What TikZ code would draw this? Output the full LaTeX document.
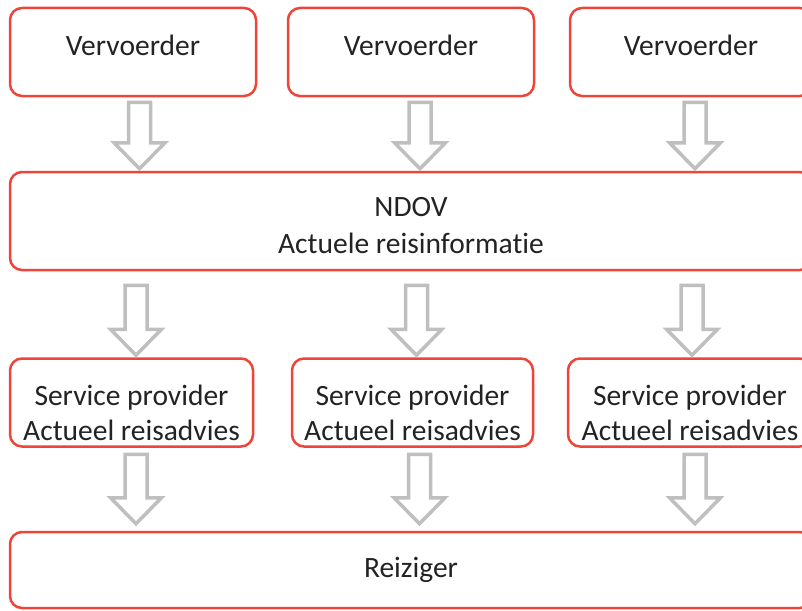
\documentclass[tikz,border=0pt]{standalone}
\usepackage{fontspec}
\setmainfont{Carlito}[Ligatures=NoCommon]
\usetikzlibrary{arrows.meta, positioning, calc}

\definecolor{boxred}{RGB}{238,68,58}
\definecolor{arrowgray}{RGB}{191,191,191}
\definecolor{textdark}{RGB}{35,35,35}

\begin{document}
\begin{tikzpicture}[x=1pt,y=-1pt,
    every node/.style={font=\fontsize{29.5}{36}\selectfont, text=textdark},
    fatarrow/.style={draw=arrowgray, line width=3.5pt, fill=white,
      to path={let \p1=(\tikztostart), \p2=(\tikztotarget) in
        (\x1-11pt,\y1) -- (\x1+11pt,\y1) -- (\x1+11pt,\y2+26pt)
        -- (\x1+25.5pt,\y2+26pt) -- (\x1,\y2) -- (\x1-25.5pt,\y2+26pt)
        -- (\x1-11pt,\y2+26pt) -- cycle}}]
  \tikzstyle{boxR}=[rectangle, rounded corners=12pt, draw=boxred, line width=2.5pt, fill=white, align=center, inner sep=0pt]
  \tikzstyle{boxTop}=[boxR, minimum height=88pt, text depth=14pt]
  \tikzstyle{boxSP}=[boxR, minimum height=88pt, font=\fontsize{29.5}{35}\selectfont]
  \tikzstyle{boxWide}=[boxR, minimum width=802pt, font=\fontsize{29.5}{37}\selectfont]

  \useasboundingbox (0,0) rectangle (802,610);

  % Vervoerders
  \node[boxTop, minimum width=246pt] (vv1) at (133,52) {Vervoerder};
  \node[boxTop, minimum width=246pt] (vv2) at (411,52) {Vervoerder};
  \node[boxTop, minimum width=242pt] (vv3) at (691,52) {Vervoerder};

  % NDOV
  \node[boxWide, minimum height=98pt] (ndov) at (411,221) {\rule{0pt}{28pt}NDOV\\Actuele reisinformatie};

  % Service providers
  \node[boxSP, minimum width=243pt] (sp1) at (131.5,402.5) {\rule{0pt}{42pt}Service provider\\Actueel reisadvies};
  \node[boxSP, minimum width=241pt] (sp2) at (412.5,402.5) {\rule{0pt}{42pt}Service provider\\Actueel reisadvies};
  \node[boxSP, minimum width=244pt] (sp3) at (690,402.5)   {\rule{0pt}{42pt}Service provider\\Actueel reisadvies};

  % Reiziger
  \node[boxWide, minimum height=76pt] (reis) at (411,570) {Reiziger};

  % block arrows
  \draw[fatarrow] ([xshift=6.5pt,yshift=-5pt]vv1.south) to ([yshift=2pt]ndov.north);
  \draw[fatarrow] ([xshift=9pt,yshift=-5pt]vv2.south) to ([yshift=2pt]ndov.north);
  \draw[fatarrow] ([xshift=4pt,yshift=-5pt]vv3.south) to ([yshift=2pt]ndov.north);

  \draw[fatarrow] ([xshift=4.5pt,yshift=-14pt]ndov.south -| sp1) to ([yshift=2pt]sp1.north);
  \draw[fatarrow] ([xshift=4pt,yshift=-14pt]ndov.south -| sp2) to ([yshift=2pt]sp2.north);
  \draw[fatarrow] ([xshift=2pt,yshift=-14pt]ndov.south -| sp3) to ([yshift=2pt]sp3.north);

  \draw[fatarrow] ([xshift=4.5pt,yshift=-6.5pt]sp1.south) to ([yshift=7pt]reis.north);
  \draw[fatarrow] ([xshift=7pt,yshift=-6.5pt]sp2.south) to ([yshift=7pt]reis.north);
  \draw[fatarrow] ([xshift=5pt,yshift=-6.5pt]sp3.south) to ([yshift=7pt]reis.north);
\end{tikzpicture}
\end{document}
